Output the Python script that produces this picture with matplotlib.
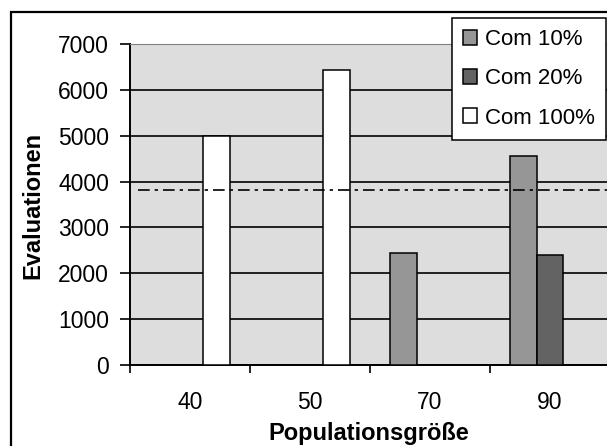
import numpy as np
import matplotlib.pyplot as plt
from matplotlib.patches import Rectangle

# data
categories = ['40', '50', '70', '90']
com10 = [0, 0, 2435, 4565]
com20 = [0, 0, 0, 2400]
com100 = [5000, 6430, 0, 0]
series_names = ['Com 10%', 'Com 20%', 'Com 100%']
series_colors = ['#969696', '#636363', '#ffffff']
reference_level = 3810

plt.rcParams['font.family'] = ['Liberation Sans', 'DejaVu Sans']

W, H = 607, 446
fig = plt.figure(figsize=(W / 100, H / 100), dpi=100)
fig.patch.set_facecolor('white')

# outer chart frame (cropped on the right and bottom)
fig.patches.append(Rectangle((11 / W, -0.2), 1.3, 1.2 - 12 / H,
                             transform=fig.transFigure, fill=False,
                             edgecolor='black', linewidth=1.6))

# plot area
ax = fig.add_axes([130 / W, 1 - 365 / H, 480 / W, 321 / H])
ax.set_facecolor('#dddddd')

x = np.arange(len(categories))
w = 1 / 4.5
vals = [com10, com20, com100]
for i, (v, c, n) in enumerate(zip(vals, series_colors, series_names)):
    ax.bar(x + (i - 1) * w, v, width=w, color=c, edgecolor='black',
           linewidth=1.1, label=n, zorder=3)

ax.axhline(reference_level, xmin=0.016, color='black', lw=1.2,
           linestyle=(0, (7, 3, 2, 3)), zorder=4)

ax.set_ylim(0, 7000)
ax.set_xlim(-0.5, len(categories) - 0.5)
ax.set_yticks(range(0, 7001, 1000))
ax.yaxis.grid(True, color='black', linewidth=1.2, zorder=1)
ax.set_axisbelow(True)

# ticks between categories, labels at the centres
ax.set_xticks(np.arange(-0.5, len(categories), 1.0))
ax.set_xticklabels([])
ax.set_xticks(x, minor=True)
ax.set_xticklabels(categories, minor=True)
ax.tick_params(axis='x', which='major', direction='out', length=6, width=1.2)
ax.tick_params(axis='x', which='minor', length=0, pad=19, labelsize=16.5)
ax.tick_params(axis='y', direction='out', length=7, width=1.2, pad=8,
               labelsize=16.5)

for s in ['left', 'bottom']:
    ax.spines[s].set_color('black')
    ax.spines[s].set_linewidth(1.4)
ax.spines['top'].set_color('#808080')
ax.spines['right'].set_color('#808080')

fig.text(33 / W, 1 - 205 / H, 'Evaluationen', rotation=90, ha='center',
         va='center', fontsize=17, fontweight='bold')
fig.text(369 / W, 1 - 440 / H, 'Populationsgröße', ha='center',
         va='baseline', fontsize=17, fontweight='bold')

leg = fig.legend(loc='upper left', bbox_to_anchor=(452 / W, 1 - 18 / H),
                 borderaxespad=0, frameon=True, fancybox=False,
                 framealpha=1, edgecolor='black', fontsize=16,
                 handlelength=0.63, handleheight=0.63, handletextpad=0.36,
                 labelspacing=0.82, borderpad=0.5)
leg.get_frame().set_linewidth(1.1)

fig.savefig('out.png', dpi=100)
